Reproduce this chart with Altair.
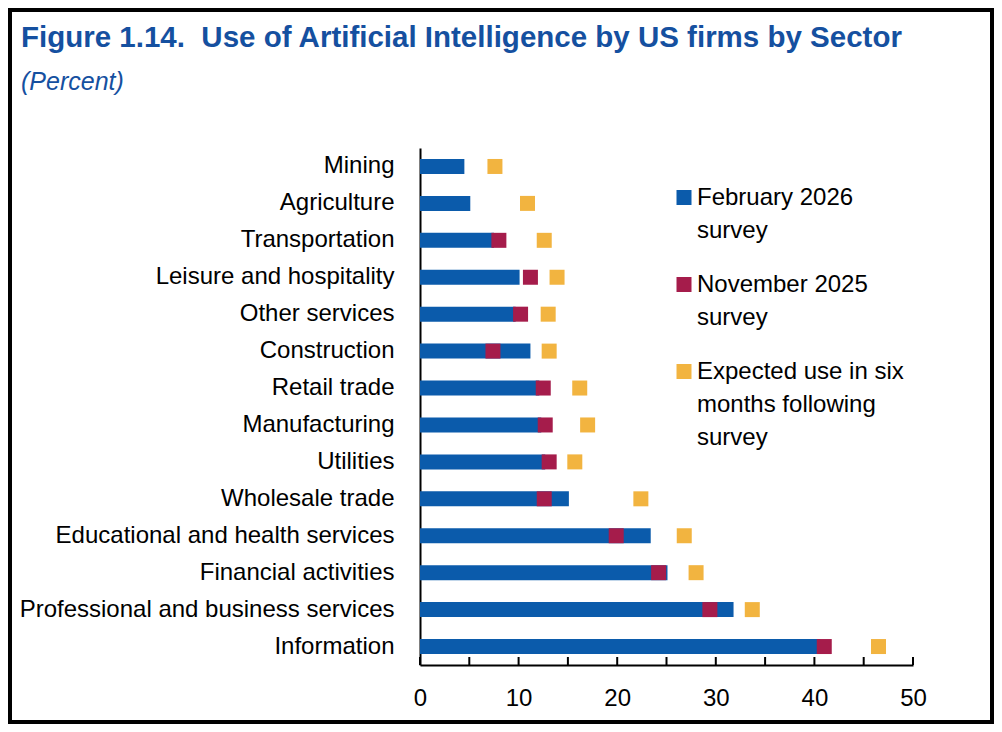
import altair as alt
import pandas as pd

# ---------------- data ----------------
sectors = [
    "Mining",
    "Agriculture",
    "Transportation",
    "Leisure and hospitality",
    "Other services",
    "Construction",
    "Retail trade",
    "Manufacturing",
    "Utilities",
    "Wholesale trade",
    "Educational and health services",
    "Financial activities",
    "Professional and business services",
    "Information",
]
feb_2026 = [4.5, 5.1, 7.5, 10.1, 9.7, 11.2, 12.1, 12.3, 12.7, 15.1, 23.4, 25.1, 31.8, 40.6]
nov_2025 = [None, None, 8.0, 11.2, 10.2, 7.4, 12.5, 12.7, 13.1, 12.6, 19.9, 24.2, 29.4, 41.0]
expected = [7.6, 10.9, 12.6, 13.9, 13.0, 13.1, 16.2, 17.0, 15.7, 22.4, 26.8, 28.0, 33.7, 46.5]

tick_values = [0, 5, 10, 15, 20, 25, 30, 35, 40, 45, 50]
label_values = [0, 10, 20, 30, 40, 50]

legend_labels = [
    ["February 2026", "survey"],
    ["November 2025", "survey"],
    ["Expected use in six", "months following", "survey"],
]

title_text = "Figure 1.14.\u00a0 Use of Artificial Intelligence by US firms by Sector"
subtitle_text = "(Percent)"

# ---------------- style ----------------
BLUE = "#0B5BAB"
MAROON = "#A51C4B"
GOLD = "#F2B440"
TITLE_BLUE = "#1550A0"
legend_colors = [BLUE, MAROON, GOLD]
FONT = "Liberation Sans"

W, H = 493, 517
PAD_L, PAD_T, PAD_R, PAD_B = 412, 140, 81, 59
TOTAL_W = PAD_L + W + PAD_R
TOTAL_H = PAD_T + H + PAD_B

df = pd.DataFrame({"sector": sectors, "feb": feb_2026, "nov": nov_2025, "exp": expected})
one = pd.DataFrame({"a": [0]})

x_scale = alt.Scale(domain=[0, 50], nice=False, zero=True)
x_axis = alt.Axis(
    values=label_values, title=None, grid=False, ticks=False, tickSize=0,
    domainColor="black", domainWidth=2, labelFont=FONT, labelFontSize=24,
    labelColor="black", labelPadding=21, labelFlush=False,
)
y_axis = alt.Axis(
    title=None, grid=False, ticks=False, tickSize=0, domainColor="black",
    domainWidth=2, labelFont=FONT, labelFontSize=24, labelColor="black",
    labelPadding=26, labelLimit=600,
)
y_enc = alt.Y("sector:N", sort=sectors,
              scale=alt.Scale(paddingInner=0, paddingOuter=0), axis=y_axis)

bars = alt.Chart(df).mark_bar(size=15, color=BLUE).encode(
    x=alt.X("feb:Q", scale=x_scale, axis=x_axis), y=y_enc
)
nov = alt.Chart(df).mark_square(size=225, color=MAROON, opacity=1, strokeWidth=0).encode(
    x=alt.X("nov:Q", scale=x_scale, axis=x_axis), y=y_enc
)
exp = alt.Chart(df).mark_square(size=225, color=GOLD, opacity=1, strokeWidth=0).encode(
    x=alt.X("exp:Q", scale=x_scale, axis=x_axis), y=y_enc
)
ticks = alt.Chart(pd.DataFrame({"t": tick_values})).mark_rule(color="black", strokeWidth=2).encode(
    x=alt.X("t:Q", scale=x_scale, axis=x_axis), y=alt.value(H - 8), y2=alt.value(H)
)

border = alt.Chart(one).mark_rect(filled=False, color="black", strokeWidth=4, fill="transparent").encode(
    x=alt.value(-PAD_L + 2), x2=alt.value(TOTAL_W - PAD_L - 2),
    y=alt.value(-PAD_T + 2), y2=alt.value(TOTAL_H - PAD_T - 2),
)

# ---------------- title (as text, placed above the plot) ----------------
title = alt.Chart(one).mark_text(
    text=title_text, align="left", baseline="alphabetic", font=FONT,
    fontSize=29.5, fontWeight="bold", color=TITLE_BLUE,
).encode(x=alt.value(21 - PAD_L - 8), y=alt.value(47 - PAD_T - 8))
subtitle = alt.Chart(one).mark_text(
    text=subtitle_text, align="left", baseline="alphabetic", font=FONT,
    fontSize=25, fontStyle="italic", color=TITLE_BLUE,
).encode(x=alt.value(21 - PAD_L - 8), y=alt.value(90 - PAD_T - 8))

# ---------------- legend (manual, multi-line) ----------------
legend_layers = []
LINE = 33
GAP = 21
base = 57
sym_x = 264
txt_x = 277
for lines, col in zip(legend_labels, legend_colors):
    legend_layers.append(
        alt.Chart(one).mark_square(size=225, color=col, opacity=1, strokeWidth=0).encode(
            x=alt.value(sym_x), y=alt.value(base - 7.5)
        )
    )
    for i, ln in enumerate(lines):
        legend_layers.append(
            alt.Chart(one).mark_text(
                text=ln, align="left", baseline="alphabetic", font=FONT,
                fontSize=24, color="black",
            ).encode(x=alt.value(txt_x), y=alt.value(base + i * LINE))
        )
    base += len(lines) * LINE + GAP

chart = alt.layer(bars, nov, exp, ticks, border, title, subtitle, *legend_layers).properties(
    width=W,
    height=H,
    autosize=alt.AutoSizeParams(type="none"),
    padding={"left": PAD_L, "top": PAD_T, "right": PAD_R, "bottom": PAD_B},
).configure_view(stroke="transparent")

chart.save("out.html", embed_options={"renderer": "svg", "actions": False})
